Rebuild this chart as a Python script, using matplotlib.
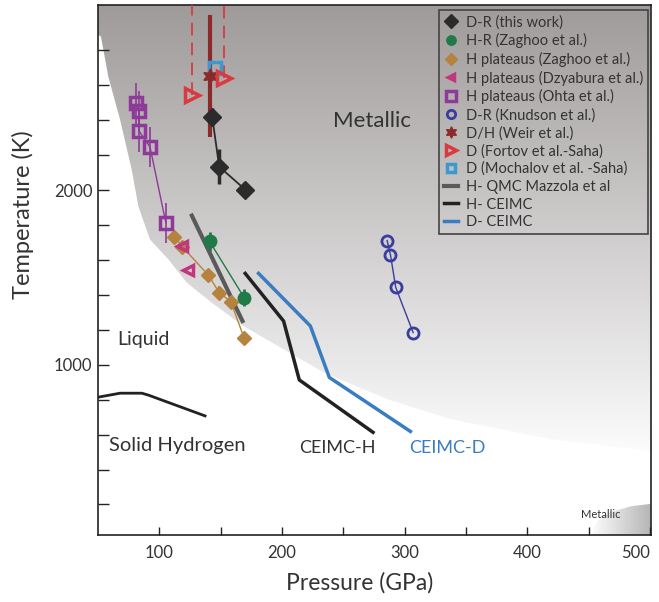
import numpy as np
import matplotlib.pyplot as plt
from matplotlib.patches import Polygon

plt.rcParams['font.family'] = ['Lato', 'DejaVu Sans']

# ---- data (pressure GPa, temperature K) ----
# D-R (this work)
dr_p = [143.1, 148.8, 170.0]
dr_t = [2420, 2134, 2003]
dr_err = [50, 100, 45]

# H-R Zaghoo et al.
zr_p = [140.9, 169.2]
zr_t = [1707, 1384]
zr_err = [55, 50]

# H plateaus Zaghoo et al.
zp_p = [112.3, 118.8, 140.0, 148.8, 158.3, 169.2]
zp_t = [1733, 1675, 1513, 1413, 1361, 1151]
zp_err = [35, 30, 35, 35, 35, 35]

# H plateaus Dzyabura et al.
dz_p = [118.8, 123.7]
dz_t = [1679, 1540]

# H plateaus Ohta et al.
oh_p = [81.0, 83.2, 83.7, 92.4, 105.3]
oh_t = [2496, 2454, 2336, 2247, 1813]
oh_err = [115, 115, 115, 115, 115]

# D-R Knudson et al.
kn_p = [285.7, 288.4, 292.7, 306.9]
kn_t = [1711, 1630, 1443, 1184]

# D/H Weir et al.
we_p = [140.9]
we_t = [2654]
we_err = [350]

# D Fortov et al. - Saha
fo_p = [126.5, 152.5]
fo_t = [2546, 2641]
fo_up = [700, 700]

# D Mochalov et al. - Saha
mo_p = [145.5]
mo_t = [2698]

# H- QMC Mazzola et al
qmc_p = [126.5, 167.8]
qmc_t = [1854, 1250]

# H- CEIMC
ch_p = [170.0, 201.3, 214.1, 274.2]
ch_t = [1523, 1250, 913, 613]

# D- CEIMC
cd_p = [180.9, 223.1, 238.6, 304.7]
cd_t = [1523, 1222, 927, 618]

# solid hydrogen melting line
melt_p = [50, 68, 85.7, 91.1, 137.3]
melt_t = [814, 837, 837, 826, 707]

# boundary of the metallic (shaded) region
bnd_p = [50, 52.4, 58.4, 68.0, 77.5, 82.9, 92.4, 107.4, 122.4, 142.8, 168.4, 233.7, 285.7, 337.3, 419, 500.5]
bnd_t = [2890, 2879, 2650, 2403, 2117, 1907, 1717, 1603, 1470, 1355, 1222, 957, 803, 689, 574, 506]

# small metallic patch at high pressure
hp_p = [451, 458, 468, 485, 500.5]
hp_t = [25, 110, 157, 190, 203]

x0, x1 = 50, 500.5
y0, y1 = 25, 3060

fig = plt.figure(figsize=(6.59, 6.02), dpi=100)
ax = fig.add_axes([0.1487, 0.1113, 0.8386, 0.8804])

# shaded metallic region
w = np.linspace(0, 1, 400)[:, None] * np.ones((1, 2))
g = np.clip(1 - 0.43 * (w - 0.13), 0, 1)
rgb = np.dstack([g, g - 0.05 * (1 - g), g - 0.05 * (1 - g)])
im = ax.imshow(rgb, extent=[x0, x1, y0, y1], origin='lower', aspect='auto',
               zorder=0, interpolation='bilinear')
region = Polygon([(x0, y1)] + list(zip(bnd_p, bnd_t)) + [(x1, y1)],
                 closed=True, facecolor='none', edgecolor='none')
ax.add_patch(region)
im.set_clip_path(region)

u = np.ones((2, 1)) * np.linspace(0, 1, 200)[None, :]
g2 = 1 - 0.29 * u
rgb2 = np.dstack([g2, g2, g2])
im2 = ax.imshow(rgb2, extent=[hp_p[0], x1, y0, hp_t[-1]], origin='lower',
                aspect='auto', zorder=0, interpolation='bilinear')
patch = Polygon(list(zip(hp_p, hp_t)) + [(x1, y0)], closed=True,
                facecolor='none', edgecolor='none')
ax.add_patch(patch)
im2.set_clip_path(patch)

# connecting lines
ax.plot(dr_p, dr_t, '-', color='#2b2b2b', lw=1.3, zorder=2)
ax.plot(zr_p, zr_t, '-', color='#1f7a48', lw=1.0, zorder=2)
ax.plot(zp_p, zp_t, '-', color='#b5833e', lw=1.0, zorder=2)
ax.plot(oh_p, oh_t, '-', color='#8e3a98', lw=1.0, zorder=2)
ax.plot(kn_p, kn_t, '-', color='#3a3d9e', lw=1.0, zorder=2)
ax.plot(melt_p, melt_t, '-', color='#222222', lw=2.0, zorder=2)

# error bars
ax.errorbar(dr_p, dr_t, yerr=dr_err, fmt='none', ecolor='#2b2b2b', elinewidth=2.5, zorder=3)
ax.errorbar(zr_p, zr_t, yerr=zr_err, fmt='none', ecolor='#1f7a48', elinewidth=2, zorder=3)
ax.errorbar(zp_p, zp_t, yerr=zp_err, fmt='none', ecolor='#b5833e', elinewidth=1.2, zorder=3)
ax.errorbar(oh_p, oh_t, yerr=oh_err, fmt='none', ecolor='#8e3a98', elinewidth=1.2, zorder=3)
ax.errorbar(we_p, we_t, yerr=we_err, fmt='none', ecolor='#8b2a2a', elinewidth=3, zorder=3)
eb = ax.errorbar(fo_p, fo_t, yerr=[[0, 0], fo_up], fmt='none', ecolor='#d93a40',
                 elinewidth=1.3, zorder=3)
eb[2][0].set_linestyle((0, (7, 4)))

# markers (legend entries)
ax.plot(dr_p, dr_t, 'D', ls='none', color='#2b2b2b', ms=9, label='D-R (this work)', zorder=5)
ax.plot(zr_p, zr_t, 'o', ls='none', color='#1f7a48', ms=9, label='H-R (Zaghoo et al.)', zorder=5)
ax.plot(zp_p, zp_t, 'D', ls='none', color='#b5833e', ms=7.5, label='H plateaus (Zaghoo et al.)', zorder=5)
ax.plot(dz_p, dz_t, '<', ls='none', color='#c2357f', mfc='none', mew=2.5, ms=6.5,
        label='H plateaus (Dzyabura et al.)', zorder=5)
ax.plot(oh_p, oh_t, 's', ls='none', color='#8e3a98', mfc='none', mew=2.5, ms=9,
        label='H plateaus (Ohta et al.)', zorder=5)
ax.plot(kn_p, kn_t, 'o', ls='none', color='#3a3d9e', mfc='none', mew=2, ms=8,
        label='D-R (Knudson et al.)', zorder=5)
ax.plot(we_p, we_t, marker=(6, 1, 0), ls='none', color='#8b2a2a', ms=11,
        label='D/H (Weir et al.)', zorder=5)
ax.plot(fo_p, fo_t, '>', ls='none', color='#d93a40', mfc='none', mew=2.5, ms=10,
        label='D (Fortov et al.-Saha)', zorder=5)
ax.plot(mo_p, mo_t, 's', ls='none', color='#3a9ad0', mfc='none', mew=2.5, ms=8,
        label='D (Mochalov et al. -Saha)', zorder=4)
ax.plot(qmc_p, qmc_t, '-', color='#5a5a5a', lw=3, label='H- QMC Mazzola et al', zorder=3)
ax.plot(ch_p, ch_t, '-', color='#222222', lw=2.5, label='H- CEIMC', zorder=3)
ax.plot(cd_p, cd_t, '-', color='#3a7cc2', lw=2.5, label='D- CEIMC', zorder=3)

# region labels
ax.text(273.7, 2397, 'Metallic', fontsize=16, color='#333333', ha='center', va='center')
ax.text(86.7, 1146, 'Liquid', fontsize=14, color='#333333', ha='center', va='center')
ax.text(114.5, 540, 'Solid Hydrogen', fontsize=14.5, color='#333333', ha='center', va='center')
ax.text(245.1, 523, 'CEIMC-H', fontsize=13, color='#333333', ha='center', va='center')
ax.text(334.9, 523, 'CEIMC-D', fontsize=13, color='#3a7cc2', ha='center', va='center')
ax.text(459.8, 140, 'Metallic', fontsize=8, color='#333333', ha='center', va='center')

ax.set_xlim(x0, x1)
ax.set_ylim(y0, y1)

ax.set_xticks([100, 200, 300, 400, 500])
ax.set_xticks([150, 250, 350, 450], minor=True)
ax.set_yticks(np.arange(200, 3000, 200))
ax.yaxis.set_major_formatter(plt.FuncFormatter(
    lambda v, _: f'{v:.0f}' if v in (1000, 2000) else ''))
ax.tick_params(axis='x', which='both', direction='in', length=6, width=1,
               labelsize=12, pad=7, colors='#222222', labelcolor='#333333')
ax.tick_params(axis='y', direction='in', length=8, width=1, labelsize=12, pad=4,
               colors='#222222', labelcolor='#333333')
ax.get_xticklabels()[-1].set_horizontalalignment('right')
for s in ax.spines.values():
    s.set_linewidth(1.2)
    s.set_color('#222222')

ax.set_xlabel('Pressure (GPa)', fontsize=16.5, color='#333333')
ax.set_ylabel('Temperature (K)', fontsize=17, color='#333333')
ax.xaxis.set_label_coords(0.474, -0.07)
ax.yaxis.set_label_coords(-0.1158, 0.604)

leg = ax.legend(loc='upper right', bbox_to_anchor=(0.9953, 0.9906), borderaxespad=0,
                fancybox=False, edgecolor='#444444', facecolor='none', fontsize=10.5,
                handlelength=1.0, handletextpad=0.5, labelspacing=0.25, borderpad=0.35,
                markerscale=0.75, framealpha=1)
leg.get_frame().set_linewidth(1.2)
for t in leg.get_texts():
    t.set_color('#333333')

fig.savefig('out.png', dpi=100)
